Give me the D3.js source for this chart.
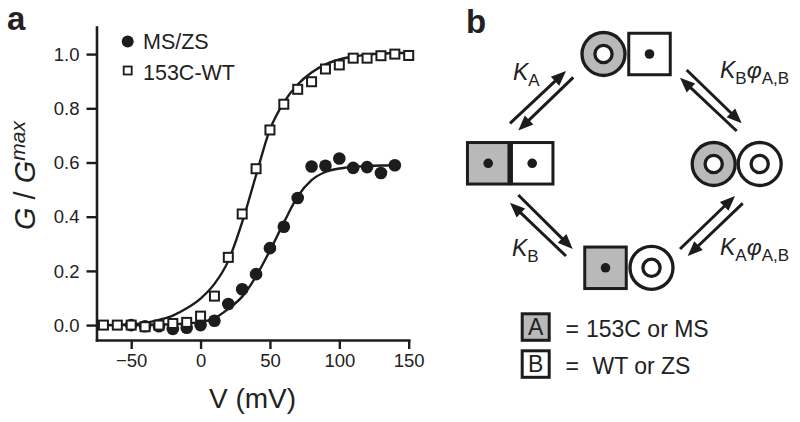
<!DOCTYPE html>
<html>
<head>
<meta charset="utf-8">
<script src="https://cdn.jsdelivr.net/npm/d3@7"></script>
<style>
  html, body { margin: 0; padding: 0; background: #fff; }
  svg { display: block; font-family: "Liberation Sans", Arial, Helvetica, sans-serif; }
</style>
</head>
<body>
<svg id="chart" width="800" height="422"></svg>
<script>
// ---------------- DATA ----------------
const wtVoltages = [-70,-60,-50,-40,-30,-20,-10,0,10,20,30,40,50,60,70,80,90,100,110,120,130,140,150];
const wtValues   = [0.0,0.0,0.0,-0.006,0.0,0.006,0.01,0.033,0.107,0.25,0.41,0.577,0.72,0.815,0.87,0.898,0.945,0.96,0.985,0.985,0.994,1.0,0.995];

const msVoltages = [-50,-40,-30,-20,-10,0,10,20,30,40,50,60,70,80,90,100,110,120,130,140];
const msValues   = [0.0,-0.004,-0.004,-0.014,-0.01,0.0,0.016,0.078,0.132,0.188,0.284,0.363,0.469,0.585,0.588,0.615,0.58,0.583,0.561,0.59];

const wtFitV = [-70,-60,-50,-40,-30,-20,-10,0,10,20,30,40,50,60,70,80,90,100,110,120,130,140,150];
const wtFit  = [0.0,0.001,0.003,0.008,0.019,0.035,0.062,0.098,0.152,0.237,0.38,0.553,0.722,0.822,0.888,0.932,0.962,0.98,0.991,0.998,1.002,1.004,1.005];

const msFitV = [-70,-60,-50,-40,-30,-20,-10,0,10,20,30,40,50,60,70,80,90,100,110,120,130,140];
const msFit  = [0,0,0,0.001,0.002,0.003,0.006,0.011,0.025,0.06,0.105,0.18,0.275,0.378,0.475,0.535,0.565,0.578,0.584,0.587,0.589,0.59];

const xTicks = [-50,0,50,100,150];
const yTicks = [0.0,0.2,0.4,0.6,0.8,1.0];
const seriesNames = ["MS/ZS", "153C-WT"];

// scheme: states of the four-state cycle (A unit first, B unit second)
const stateUnits = {
  top:    [["ring","A"],["box","B"]],
  left:   [["box","A"],["box","B"]],
  right:  [["ring","A"],["ring","B"]],
  bottom: [["box","A"],["ring","B"]]
};
const keyLabels = [["A","= ","153C or MS"],["B","= ","WT or ZS"]];

// ---------------- DRAW ----------------
const INK = "#1c1c1c";
const GRAY = "#b9b9b9";
const svg = d3.select("#chart");
svg.append("rect").attr("width",800).attr("height",422).attr("fill","#fff");

const x = d3.scaleLinear().domain([-75,150]).range([96.5,408.7]);
const y = d3.scaleLinear().domain([-0.055,1.1]).range([340,27]);

// axes
const xAxis = svg.append("g").attr("transform","translate(0,340)")
  .call(d3.axisBottom(x).tickValues(xTicks).tickSize(9).tickSizeOuter(0).tickPadding(5));
const yAxis = svg.append("g").attr("transform","translate(96.5,0)")
  .call(d3.axisLeft(y).tickValues(yTicks).tickSize(10).tickSizeOuter(0).tickPadding(7).tickFormat(d3.format(".1f")));
[xAxis,yAxis].forEach(g=>{
  g.select(".domain").attr("stroke",INK).attr("stroke-width",2.6).attr("stroke-linecap","square");
  g.selectAll(".tick line").attr("stroke",INK).attr("stroke-width",2.4);
  g.selectAll(".tick text").attr("fill","#222").attr("font-size",18.5).attr("font-family","Liberation Sans, Arial, sans-serif");
});
yAxis.selectAll(".tick text").attr("dy","0.34em");

// axis titles
svg.append("text").attr("x",252.5).attr("y",408).attr("text-anchor","middle")
  .attr("font-size",28).attr("fill","#222").text("V (mV)");
const yt = svg.append("text").attr("transform","translate(35,230) rotate(-90)")
  .attr("font-size",29).attr("fill","#222");
yt.append("tspan").attr("font-style","italic").text("G");
yt.append("tspan").text(" / ");
yt.append("tspan").attr("font-style","italic").text("G");
yt.append("tspan").attr("font-style","italic").attr("font-size",21).attr("dy",-10).text("max");

// panel labels
svg.append("text").attr("x",7).attr("y",30).attr("font-size",33).attr("font-weight","bold").attr("fill","#222").text("a");
svg.append("text").attr("x",466).attr("y",33).attr("font-size",33).attr("font-weight","bold").attr("fill","#222").text("b");

// fit lines
const line = d3.line().x(d=>x(d[0])).y(d=>y(d[1])).curve(d3.curveMonotoneX);
svg.append("path").datum(d3.zip(wtFitV, wtFit)).attr("d",line)
  .attr("fill","none").attr("stroke",INK).attr("stroke-width",2.4);
svg.append("path").datum(d3.zip(msFitV, msFit)).attr("d",line)
  .attr("fill","none").attr("stroke",INK).attr("stroke-width",2.4);

// MS/ZS circles
svg.append("g").selectAll("circle").data(d3.zip(msVoltages, msValues)).join("circle")
  .attr("cx",d=>x(d[0])).attr("cy",d=>y(d[1])).attr("r",6.3).attr("fill",INK);
// 153C-WT squares
const sq = 9;
svg.append("g").selectAll("rect").data(d3.zip(wtVoltages, wtValues)).join("rect")
  .attr("x",d=>x(d[0])-sq/2).attr("y",d=>y(d[1])-sq/2).attr("width",sq).attr("height",sq)
  .attr("fill","#fff").attr("stroke",INK).attr("stroke-width",2);

// legend (panel a)
const lg = svg.append("g");
lg.append("circle").attr("cx",127.7).attr("cy",41.5).attr("r",6).attr("fill",INK);
lg.append("rect").attr("x",123.7).attr("y",66.5).attr("width",8).attr("height",8)
  .attr("fill","#fff").attr("stroke",INK).attr("stroke-width",1.8);
lg.append("text").attr("x",143).attr("y",48.5).attr("font-size",21.5).attr("fill","#222").text(seriesNames[0]);
lg.append("text").attr("x",143).attr("y",80).attr("font-size",21.5).attr("fill","#222").text(seriesNames[1]);

// ---------------- PANEL b: scheme ----------------
const U = 41.5;        // unit box size (stroke centre)
const SW = 3;          // stroke width
const statePos = { top:[603.5,54], left:[488.2,163.3], right:[713.7,164], bottom:[605.5,267.8] };
const b = svg.append("g");
function drawUnit(kind, fillKey, cx, cy) {
  const fill = fillKey === "A" ? GRAY : "#fff";
  if (kind === "box") {
    b.append("rect").attr("x",cx-U/2).attr("y",cy-U/2).attr("width",U).attr("height",U)
      .attr("fill",fill).attr("stroke",INK).attr("stroke-width",SW);
    b.append("circle").attr("cx",cx).attr("cy",cy).attr("r",4.8).attr("fill",INK);
  } else {
    b.append("circle").attr("cx",cx).attr("cy",cy).attr("r",21.5)
      .attr("fill",fill).attr("stroke",INK).attr("stroke-width",SW+0.3);
    b.append("circle").attr("cx",cx).attr("cy",cy).attr("r",8.6)
      .attr("fill","#fff").attr("stroke",INK).attr("stroke-width",SW+0.3);
  }
}
Object.keys(stateUnits).forEach(k=>{
  const [cx,cy] = statePos[k];
  const step = k==="left" ? 44 : 46;
  stateUnits[k].forEach((u,i)=> drawUnit(u[0], u[1], cx + i*step, cy));
});

// arrows: [x1,y1,x2,y2] with head at (x2,y2)
const arrows = [
  [510,123.3,566,71],[573.3,77.3,518.3,130.5],
  [686.7,70,741.7,123.3],[736.7,131,680,77.7],
  [518.3,195,572.7,249],[566,256,510,202.7],
  [680,249,735,196],[742.7,203.3,687.7,256]
];
arrows.forEach(([x1,y1,x2,y2])=>{
  const dx=x2-x1, dy=y2-y1, L=Math.hypot(dx,dy), ux=dx/L, uy=dy/L, px=-uy, py=ux;
  const hl=15, hw=6.2;
  b.append("line").attr("x1",x1).attr("y1",y1).attr("x2",x2-ux*hl*0.7).attr("y2",y2-uy*hl*0.7)
    .attr("stroke",INK).attr("stroke-width",3);
  const bx=x2-ux*hl, by=y2-uy*hl;
  b.append("path").attr("d",`M${x2},${y2}L${bx+px*hw},${by+py*hw}L${bx-px*hw},${by-py*hw}Z`).attr("fill",INK);
});

// rate labels
function rateLabel(xp, yp, parts) {
  const t = b.append("text").attr("x",xp).attr("y",yp).attr("fill","#222");
  let shift = 0;
  parts.forEach(([txt, sub, ital])=>{
    const target = sub ? 6 : 0;
    t.append("tspan").attr("dy",target-shift).attr("font-size",sub?17:23)
      .attr("font-style",ital?"italic":"normal").text(txt);
    shift = target;
  });
}
rateLabel(513,80,[["K",0,1],["A",1,0]]);
rateLabel(720,78,[["K",0,1],["B",1,0],["φ",0,1],["A,B",1,0]]);
rateLabel(512,256,[["K",0,1],["B",1,0]]);
rateLabel(720,255,[["K",0,1],["A",1,0],["φ",0,1],["A,B",1,0]]);

// key
keyLabels.forEach((k,i)=>{
  const top = i===0 ? 313.8 : 350.8;
  b.append("rect").attr("x",522.2).attr("y",top).attr("width",27).attr("height",26.5)
    .attr("fill", i===0 ? GRAY : "#fff").attr("stroke",INK).attr("stroke-width",3);
  b.append("text").attr("x",535.7).attr("y",top+21.5).attr("text-anchor","middle")
    .attr("font-size",23).attr("fill","#222").text(k[0]);
  b.append("text").attr("x",565.5).attr("y",top+22.8).attr("font-size",23).attr("fill","#222").text("=");
  b.append("text").attr("x", i===0 ? 586 : 592.5).attr("y",top+22.8).attr("font-size",23).attr("fill","#222").text(k[2]);
});
</script>
</body>
</html>
